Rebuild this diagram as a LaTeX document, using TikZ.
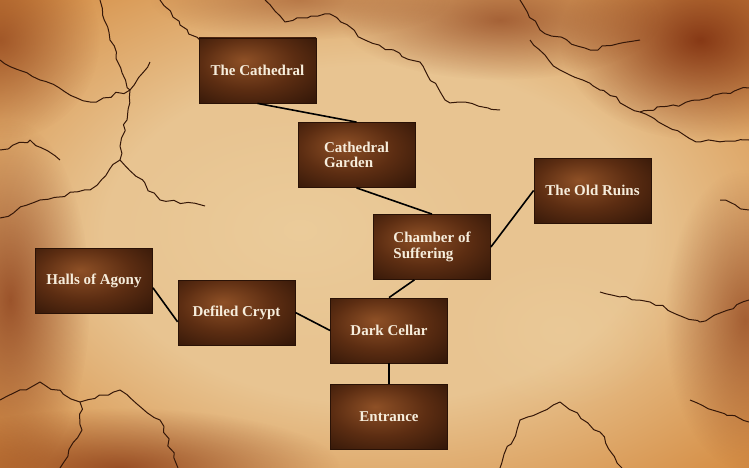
\documentclass[tikz,border=0pt]{standalone}
\usepackage{fontspec}
\setmainfont{Liberation Serif}
\usetikzlibrary{calc,decorations.pathmorphing,fadings}

% parchment and room colours
\definecolor{parchA}{HTML}{E8C491}
\definecolor{parchB}{HTML}{D69048}
\definecolor{parchC}{HTML}{A5521A}
\definecolor{parchD}{HTML}{4C1B08}
\definecolor{stain}{HTML}{7E2E0E}
\definecolor{light}{HTML}{EED2A2}
\definecolor{roomA}{HTML}{8E5026}
\definecolor{roomB}{HTML}{5C2D12}
\definecolor{roomC}{HTML}{2A1206}
\definecolor{crackcol}{HTML}{351708}
\definecolor{labelcol}{HTML}{F6EDDC}

\pgfdeclareradialshading{parchment}{\pgfpoint{0bp}{0bp}}{%
  color(0bp)=(parchA); color(18bp)=(parchA); color(34bp)=(parchB);
  color(47bp)=(parchC); color(60bp)=(parchD); color(75bp)=(parchD)}
\pgfdeclareradialshading{roomtex}{\pgfpoint{-6bp}{8bp}}{%
  color(0bp)=(roomA); color(20bp)=(roomB); color(42bp)=(roomC); color(60bp)=(roomC)}
\tikzfading[name=softblob, inner color=transparent!0, outer color=transparent!100]

\tikzset{
  room/.style={rectangle, minimum width=117pt, minimum height=65pt,
    inner sep=2pt, shading=roomtex, draw=roomC, line width=0.8pt,
    text=labelcol, font=\bfseries\fontsize{15}{15.5}\selectfont, align=left},
  link/.style={draw=black, line width=1.6pt},
  crack/.style={draw=crackcol, line width=1pt, line join=round,
    decorate, decoration={random steps, segment length=7pt, amplitude=2pt}},
  blotch/.style={path fading=softblob}
}

\begin{document}
\begin{tikzpicture}[x=1pt, y=-1pt]
  % parchment backdrop
  \shade[shading=parchment] (0,0) rectangle (749,468);
  \useasboundingbox (0,0) rectangle (749,468);

  % stains on the paper
  \fill[stain, opacity=0.9, blotch] (700,40) ellipse (140 and 100);
  \fill[stain, opacity=0.6, blotch] (500,20) ellipse (160 and 60);
  \fill[stain, opacity=0.7, blotch] (10,300) ellipse (80 and 180);
  \fill[stain, opacity=0.6, blotch] (745,320) ellipse (80 and 150);
  \fill[stain, opacity=0.7, blotch] (120,468) ellipse (220 and 60);
  \fill[stain, opacity=0.6, blotch] (0,40) ellipse (100 and 100);
  \fill[stain, opacity=0.4, blotch] (300,0) ellipse (150 and 40);
  \fill[light, opacity=0.55, blotch] (300,230) ellipse (190 and 120);
  \fill[light, opacity=0.35, blotch] (560,330) ellipse (110 and 80);

  % cracks in the paper
  \draw[crack] (160,0) -- (180,25) -- (200,40);
  \draw[crack] (265,0) -- (285,22) -- (330,14) -- (365,40) -- (420,62) -- (445,100) -- (500,110);
  \draw[crack] (100,0) -- (110,40) -- (130,90);
  \draw[crack] (0,60) -- (40,80) -- (90,102) -- (130,90) -- (150,62);
  \draw[crack] (130,90) -- (120,160) -- (90,190) -- (40,200) -- (0,218);
  \draw[crack] (120,160) -- (160,200) -- (205,206);
  \draw[crack] (0,400) -- (40,382) -- (80,402) -- (120,390) -- (160,420) -- (178,468);
  \draw[crack] (60,468) -- (82,430) -- (80,402);
  \draw[crack] (749,88) -- (700,100) -- (640,112) -- (600,90) -- (560,70) -- (530,40);
  \draw[crack] (640,112) -- (700,142) -- (749,140);
  \draw[crack] (600,292) -- (650,302) -- (700,322) -- (749,300);
  \draw[crack] (500,468) -- (520,420) -- (560,402) -- (600,432) -- (622,468);
  \draw[crack] (690,400) -- (749,422);
  \draw[crack] (520,0) -- (540,30) -- (590,50) -- (640,40);
  \draw[crack] (0,150) -- (30,140) -- (60,160);
  \draw[crack] (720,200) -- (749,210);

  % rooms
  \node[room] (cathedral) at (257.5,70.5) {The Cathedral};
  \node[room] (garden)    at (356.5,155)  {Cathedral\\Garden};
  \node[room] (chamber)   at (432,247)    {Chamber of\\Suffering};
  \node[room] (ruins)     at (592.5,190.5){The Old Ruins};
  \node[room] (halls)     at (94,280.5)   {Halls of Agony};
  \node[room] (crypt)     at (236.5,312.5){Defiled Crypt};
  \node[room] (cellar)    at (389,330.5)  {Dark Cellar};
  \node[room] (entrance)  at (389,417)    {Entrance};

  % passages between rooms
  \draw[link] (cathedral.south) -- (garden.north);
  \draw[link] (garden.south) -- (chamber.north);
  \draw[link] (chamber.east) -- (ruins.west);
  \draw[link] (cellar.north) -- ($(chamber.south west)!0.35!(chamber.south east)$);
  \draw[link] (crypt.east) -- (cellar.west);
  \draw[link] (halls.-7) -- (crypt.189);
  \draw[link] (cellar.south) -- (entrance.north);
\end{tikzpicture}
\end{document}
